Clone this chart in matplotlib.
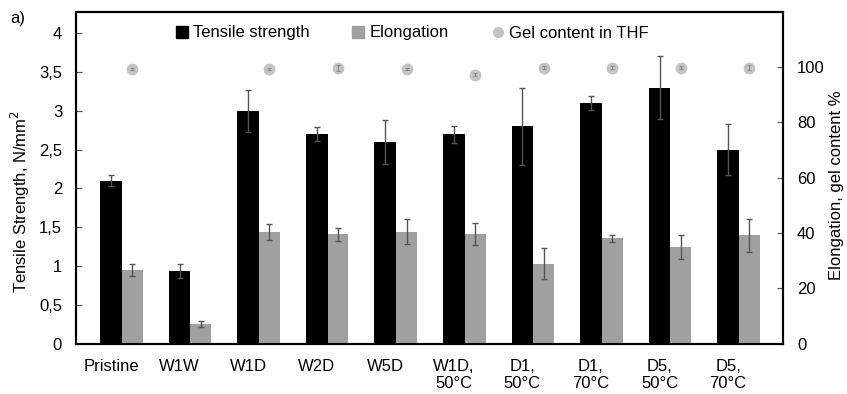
import matplotlib
matplotlib.use("Agg")
import matplotlib.pyplot as plt
import numpy as np
from matplotlib.lines import Line2D
from matplotlib.ticker import FuncFormatter, FixedLocator

plt.rcParams['font.family'] = ['Liberation Sans', 'DejaVu Sans']

categories = ["Pristine", "W1W", "W1D", "W2D", "W5D", "W1D,\n50°C", "D1,\n50°C",
              "D1,\n70°C", "D5,\n50°C", "D5,\n70°C"]
tensile = [2.10, 0.94, 3.00, 2.70, 2.60, 2.70, 2.80, 3.10, 3.30, 2.50]
tensile_err = [0.075, 0.09, 0.27, 0.09, 0.28, 0.11, 0.50, 0.09, 0.40, 0.33]
elongation = [26.6, 7.1, 40.3, 39.5, 40.4, 39.5, 28.9, 38.0, 34.8, 39.1]
elongation_err = [2.3, 1.0, 2.9, 2.3, 4.5, 4.0, 5.6, 1.3, 4.3, 6.0]
gel = [99.2, np.nan, 99.2, 99.5, 99.2, 97.1, 99.7, 99.7, 99.7, 99.7]
gel_err = [0.5, np.nan, 0.5, 1.0, 0.5, 0.5, 0.5, 0.5, 0.5, 0.8]
left_ticks = [0, 0.5, 1, 1.5, 2, 2.5, 3, 3.5, 4]
right_ticks = [0, 20, 40, 60, 80, 100]

W, H = 847, 394
fig = plt.figure(figsize=(W / 100, H / 100), dpi=100)
ax_l, ax_r, ax_b, ax_t = 76, 783, 343.5, 11.5
ax = fig.add_axes([ax_l / W, 1 - ax_b / H, (ax_r - ax_l) / W, (ax_b - ax_t) / H])
ax2 = ax.twinx()

x = np.arange(len(categories))
bw = 0.316
ecol = '#555555'
ax.bar(x, tensile, width=bw, color='black', zorder=2)
ax.errorbar(x, tensile, yerr=tensile_err, fmt='none', ecolor=ecol, elinewidth=1.0,
            capsize=2.5, capthick=1.0, zorder=3)

gx = x + bw / 2 + 0.152
ax2.bar(gx, elongation, width=0.304, color='#a0a0a0', zorder=2)
ax2.errorbar(gx, elongation, yerr=elongation_err, fmt='none', ecolor=ecol, elinewidth=1.0,
             capsize=2.5, capthick=1.0, zorder=3)
ax2.plot(gx, gel, linestyle='none', marker='o', markersize=7.5, color='#c4c4c4',
         markeredgecolor='#c4c4c4', zorder=4)
ax2.errorbar(gx, gel, yerr=gel_err, fmt='none', ecolor='#8a8a8a', elinewidth=0.8,
             capsize=1.5, capthick=0.8, zorder=5)

ax.set_xlim(-0.51, 9.80)
ax.set_ylim(0, 4.28)
ax2.set_ylim(0, 120)
ax.set_xticks(x)
ax.set_xticklabels(categories, fontsize=12)
ax.tick_params(axis='x', length=0, pad=11)
ax.yaxis.set_major_locator(FixedLocator(left_ticks))
ax.yaxis.set_major_formatter(FuncFormatter(lambda v, p: f"{v:g}".replace('.', ',')))
ax.tick_params(axis='y', direction='in', length=4, width=0.8, labelsize=12, pad=10,
               color='#555555')
ax2.yaxis.set_major_locator(FixedLocator(right_ticks))
ax2.tick_params(axis='y', direction='in', length=4, width=0.8, labelsize=12, pad=10,
                color='#555555')
for a in (ax, ax2):
    for s in a.spines.values():
        s.set_linewidth(1.5)
        s.set_color('black')

ax.set_ylabel("Tensile Strength, N/mm$^2$", fontsize=12)
ax.yaxis.set_label_coords((20 - ax_l) / (ax_r - ax_l), (ax_b - 201) / (ax_b - ax_t))
ax2.set_ylabel("Elongation, gel content %", fontsize=12)
ax2.yaxis.set_label_coords((837 - ax_l) / (ax_r - ax_l), (ax_b - 185) / (ax_b - ax_t))
ax.yaxis.label.set_va('center')
ax2.yaxis.label.set_va('center')

handles = [
    Line2D([], [], linestyle='none', marker='s', markersize=8, color='black'),
    Line2D([], [], linestyle='none', marker='s', markersize=8, color='#a0a0a0'),
    Line2D([], [], linestyle='none', marker='o', markersize=7, color='#c4c4c4'),
]
labels = ["Tensile strength", "Elongation", "Gel content in THF"]
fig.legend(handles, labels, loc='center', bbox_to_anchor=(412 / W, 1 - 33 / H),
           ncol=3, frameon=False, fontsize=12, handlelength=0.8, handletextpad=0.3,
           columnspacing=2.5)

fig.text(10 / W, 1 - 18 / H, "a)", fontsize=12, va='center', ha='left')

fig.savefig("out.png", dpi=100)
